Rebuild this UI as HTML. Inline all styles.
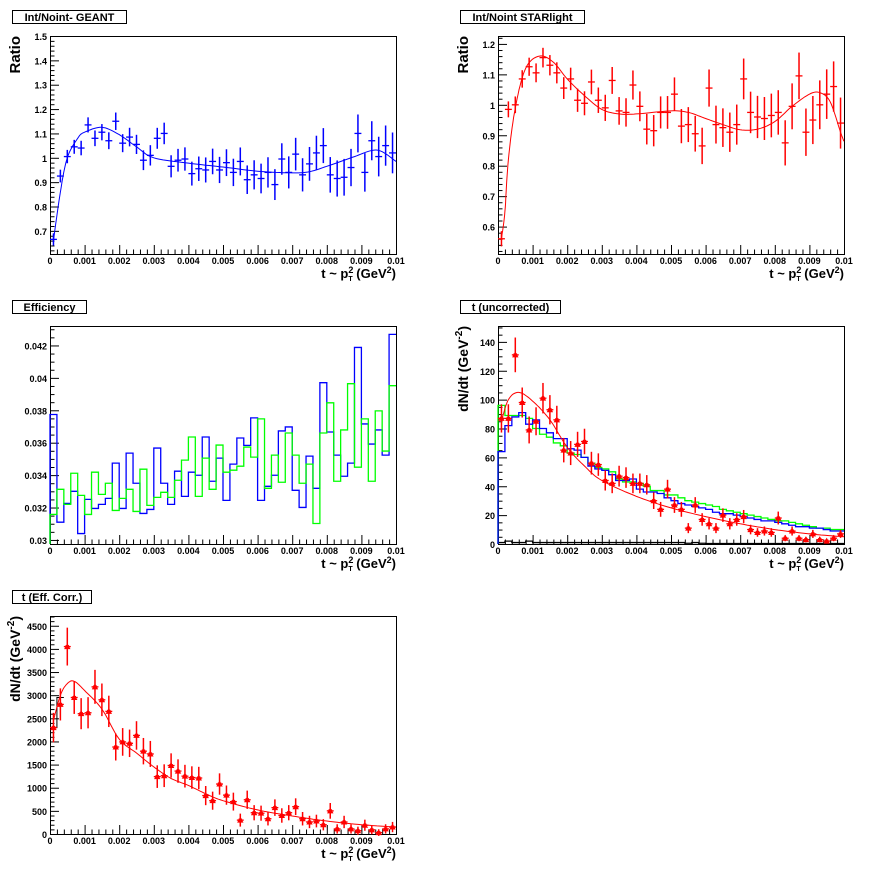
<!DOCTYPE html>
<html><head><meta charset="utf-8"><style>
body{margin:0;background:#fff;}
svg{display:block;font-family:"Liberation Sans",Arial,sans-serif;font-weight:bold;}
</style></head><body>
<svg id="s" width="896" height="872" xmlns="http://www.w3.org/2000/svg"></svg>
<script>
const S=document.getElementById('s');let out='';
const L=50,R=396,T=36,B=254;
function panel(ox,oy,o){
 const X=t=>ox+L+(t/0.01)*(R-L);
 const Y=v=>oy+B-(v-o.ymin)/(o.ymax-o.ymin)*(B-T);
 let g='';
 g+=`<rect x="${ox+12.5}" y="${oy+10.5}" width="${o.tw}" height="13" fill="#fff" stroke="#000"/>`;
 g+=`<text x="${ox+12.5+o.tw/2}" y="${oy+21}" font-size="11" text-anchor="middle">${o.title}</text>`;
 g+=`<rect x="${ox+L+.5}" y="${oy+T+.5}" width="${R-L}" height="${B-T}" fill="none" stroke="#000"/>`;
 for(let i=0;i<=50;i++){const x=X(i*0.0002)+.5;const len=i%5==0?9:4.5;
  g+=`<line x1="${x}" y1="${oy+B}" x2="${x}" y2="${oy+B-len}" stroke="#000"/>`;}
 for(let i=0;i<=10;i++){const lab=i==0?'0':i==10?'0.01':'0.00'+i;
  g+=`<text x="${X(i*0.001)}" y="${oy+B+10}" font-size="9" text-anchor="middle">${lab}</text>`;}
 const st=o.ystep/o.ysub;
 for(let v=Math.ceil(o.ymin/st-1e-6)*st;v<=o.ymax+1e-9;v+=st){
  const k=Math.round(v/st);const y=Y(v)+.5;const maj=k%o.ysub==0;
  g+=`<line x1="${ox+L}" y1="${y}" x2="${ox+L+(maj?9:4.5)}" y2="${y}" stroke="#000"/>`;
  if(maj){let lab=o.fmt(v);g+=`<text x="${ox+L-3}" y="${y+3.5}" font-size="9" text-anchor="end">${lab}</text>`;}
 }
 g+=`<text x="${ox+R}" y="${oy+B+24}" font-size="13" text-anchor="end">t ~ p<tspan font-size="9" dy="-5">2</tspan><tspan font-size="7" dx="-5" dy="8">T</tspan><tspan dy="-3"> (GeV</tspan><tspan font-size="9" dy="-5">2</tspan><tspan dy="5">)</tspan></text>`;
 if(o.ytitle) g+=`<text transform="translate(${ox+o.ytx},${oy+T}) rotate(-90)" font-size="${o.yfs||15}" text-anchor="end">${o.ytitle}</text>`;
 g+=o.draw(X,Y);
 out+=g;
}
function pts(X,Y,vals,errf,col,marker){
 let g='';const hw=0.0001;
 vals.forEach((v,i)=>{const t=i*0.0002+0.0001;const x=X(t),y=Y(v),e=errf(v,i);
  g+=`<line x1="${x}" y1="${Y(v+e)}" x2="${x}" y2="${Y(v-e)}" stroke="${col}" stroke-width="1.5"/>`;
  g+=`<line x1="${X(t-hw)}" y1="${y}" x2="${X(t+hw)}" y2="${y}" stroke="${col}" stroke-width="1.3"/>`;
  if(marker) g+=`<polygon points="${x},${y-3.5} ${x+3.2},${y+2.5} ${x-3.2},${y+2.5}" fill="${col}"/><rect x="${x-1.8}" y="${y-1.5}" width="3.6" height="3.6" fill="${col}"/>`;
 });return g;}
function curve(X,Y,p,col){
 let s='';
 for(let i=0;i<p.length-1;i++){const p0=p[Math.max(0,i-1)],p1=p[i],p2=p[i+1],p3=p[Math.min(p.length-1,i+2)];
  for(let k=0;k<10;k++){const u=k/10,u2=u*u,u3=u2*u;
   const f=(a,b,c,d)=>0.5*((2*b)+(-a+c)*u+(2*a-5*b+4*c-d)*u2+(-a+3*b-3*c+d)*u3);
   s+=X(f(p0[0],p1[0],p2[0],p3[0])).toFixed(1)+','+Y(f(p0[1],p1[1],p2[1],p3[1])).toFixed(1)+' ';}}
 const l=p[p.length-1];s+=X(l[0])+','+Y(l[1]);
 return `<polyline points="${s}" fill="none" stroke="${col}" stroke-width="1"/>`;}
function hist(X,Y,vals,col,ymin){
 let s=`${X(0)},${Y(ymin)} `;
 vals.forEach((v,i)=>{s+=`${X(i*0.0002)},${Y(v)} ${X((i+1)*0.0002)},${Y(v)} `;});
 return `<polyline points="${s}" fill="none" stroke="${col}" stroke-width="1.3"/>`;}
const f1=v=>(Math.round(v*10)/10).toString();

const g1=[0.665,0.925,1.005,1.045,1.04,1.135,1.08,1.105,1.07,1.15,1.06,1.085,1.055,0.99,1.01,1.08,1.10,0.965,0.99,0.995,0.935,0.955,0.95,0.985,0.95,0.98,0.94,0.985,0.91,0.93,0.915,0.94,0.89,0.995,0.94,1.015,0.93,0.975,1.02,1.05,0.93,0.915,0.92,0.96,1.10,0.94,1.07,1.005,1.05,1.02];
panel(0,0,{title:'Int/Noint- GEANT',tw:114,ymin:0.605,ymax:1.5,ystep:0.1,ysub:5,fmt:f1,ytitle:'Ratio',ytx:20,
 draw:(X,Y)=>pts(X,Y,g1,(v,i)=>0.025+i*0.0012,'#0000ff',false)+curve(X,Y,[[0.0001,0.66],[0.0003,0.86],[0.0005,1.0],[0.0008,1.08],[0.001,1.105],[0.0015,1.125],[0.002,1.095],[0.0025,1.045],[0.003,1.0],[0.004,0.978],[0.005,0.962],[0.006,0.945],[0.007,0.938],[0.0075,0.943],[0.008,0.965],[0.0088,1.005],[0.0093,1.03],[0.0096,1.025],[0.01,0.985]],'#0000ff')});

const g2=[0.56,0.985,1.0,1.085,1.125,1.105,1.155,1.13,1.105,1.055,1.085,1.015,1.005,1.075,1.015,0.99,1.08,0.98,0.975,1.065,0.995,0.92,0.915,0.975,0.975,1.035,0.93,0.935,0.905,0.865,1.055,0.935,0.925,0.91,0.935,1.085,0.975,0.96,0.955,0.965,0.975,0.875,0.995,1.095,0.91,0.95,1.0,1.035,1.06,0.94];
panel(448,0,{title:'Int/Noint STARlight',tw:124,ymin:0.51,ymax:1.226,ystep:0.1,ysub:5,fmt:f1,ytitle:'Ratio',ytx:20,
 draw:(X,Y)=>pts(X,Y,g2,(v,i)=>0.025+i*0.0012,'#ff0000',false)+curve(X,Y,[[0.0001,0.56],[0.0002,0.65],[0.0003,0.82],[0.0005,0.99],[0.0008,1.12],[0.0012,1.16],[0.0016,1.14],[0.002,1.085],[0.0025,1.03],[0.003,0.985],[0.0035,0.97],[0.004,0.97],[0.005,0.98],[0.0055,0.975],[0.006,0.955],[0.0065,0.935],[0.007,0.918],[0.0075,0.92],[0.008,0.945],[0.0085,0.995],[0.009,1.035],[0.0093,1.04],[0.0096,1.01],[0.0099,0.91],[0.01,0.88]],'#ff0000')});

const zb=[288,609,553,517,643,541,568,556,538,433,568,403,493,583,571,388,493,556,457,532,460,469,355,487,418,544,436,358,380,298,544,502,469,337,325,514,565,412,508,193,340,409,472,433,88,316,376,334,409,49];
const zg=[586,511,556,463,529,586,460,526,493,574,538,511,577,451,559,535,520,535,484,424,355,532,418,511,379,460,454,442,385,415,301,508,409,490,343,409,493,436,613,343,253,487,334,196,445,301,487,277,397,202];
const cv=z=>0.03+(662-z)*0.012/580;
panel(0,290,{title:'Efficiency',tw:74,ymin:0.02975,ymax:0.0432,ystep:0.002,ysub:4,fmt:v=>(Math.round(v*1000)/1000).toString(),ytitle:'',
 draw:(X,Y)=>hist(X,Y,zb.map(cv),'#0000ff',0.02975)+hist(X,Y,zg.map(cv),'#00ff00',0.02975)});

const r4=[87,87,131,98,79,85,101,93,86,65,63,69,71,56,55,44,42,47,46,42,42,41,30,24,38,27,24,11,27,17,14,11,20,14,17,19,10,8,9,8,18,4,9,4,3,7,3,2,4,7];
const b4=[64,82,88,91,83,86,80,77,73,73,66,65,60,54,52,51,48,44,44,45,38,36,36,35,32,30,28,27,26,25,24,22,21,21,20,19,18,17,16,16,15,14,13,12,12,11,11,10,9,9];
const gr4=[96,89,89,89,87,80,76,74,70,68,63,62,60,56,53,52,50,45,43,43,42,40,37,37,34,34,32,30,29,28,27,26,24,23,22,21,20,19,18,17,16,16,15,14,13,12,11,11,10,10];
const bk4=r4.map((v,i)=>i<30?[1,2,1,1,2,1,1,1,1,1,1,1,1,1,1,1,1,1,1,1,1,1,1,1,1,1,1,0.5,1,0.5][i]:0.3);
panel(448,290,{title:'t (uncorrected)',tw:100,ymin:0,ymax:151,ystep:20,ysub:4,fmt:v=>Math.round(v).toString(),ytitle:'dN/dt (GeV<tspan font-size="10" dy="-6">-2</tspan><tspan dy="6">)</tspan>',ytx:20,yfs:14,
 draw:(X,Y)=>hist(X,Y,bk4,'#000',0)+hist(X,Y,gr4,'#00ff00',0)+hist(X,Y,b4,'#0000ff',0)+curve(X,Y,[[0.0001,85],[0.0003,100],[0.0006,105],[0.001,99],[0.0015,86],[0.002,67],[0.0025,54],[0.003,44],[0.004,33],[0.005,25],[0.006,19],[0.007,14],[0.008,10],[0.009,7],[0.01,5]],'#ff0000')+pts(X,Y,r4,v=>Math.sqrt(v)*1.05,'#ff0000',true)});

const r5=[2300,2800,4050,2950,2600,2620,3180,2900,2650,1880,1990,1960,2130,1790,1730,1240,1260,1480,1360,1250,1220,1210,830,720,1080,840,700,300,740,460,450,330,570,400,460,590,330,260,280,200,500,110,260,110,70,190,90,30,110,150];
panel(0,580,{title:'t (Eff. Corr.)',tw:79,ymin:0,ymax:4711,ystep:500,ysub:5,fmt:v=>Math.round(v).toString(),ytitle:'dN/dt (GeV<tspan font-size="10" dy="-6">-2</tspan><tspan dy="6">)</tspan>',ytx:20,yfs:14,
 draw:(X,Y)=>`<polyline points="${X(0)},${Y(2300)} ${X(0.0002)},${Y(2300)} ${X(0.0002)},${Y(2950)} ${X(0.0004)},${Y(2950)}" fill="none" stroke="#000"/>`+curve(X,Y,[[0.0001,2450],[0.0003,3000],[0.0005,3250],[0.0007,3300],[0.001,3100],[0.0015,2700],[0.002,2050],[0.0025,1750],[0.003,1450],[0.0035,1200],[0.004,1050],[0.0045,870],[0.005,720],[0.006,520],[0.007,390],[0.008,280],[0.009,200],[0.01,150]],'#ff0000')+pts(X,Y,r5,v=>Math.sqrt(v)*5.8+40,'#ff0000',true)});
S.innerHTML=out;
</script>
</body></html>
